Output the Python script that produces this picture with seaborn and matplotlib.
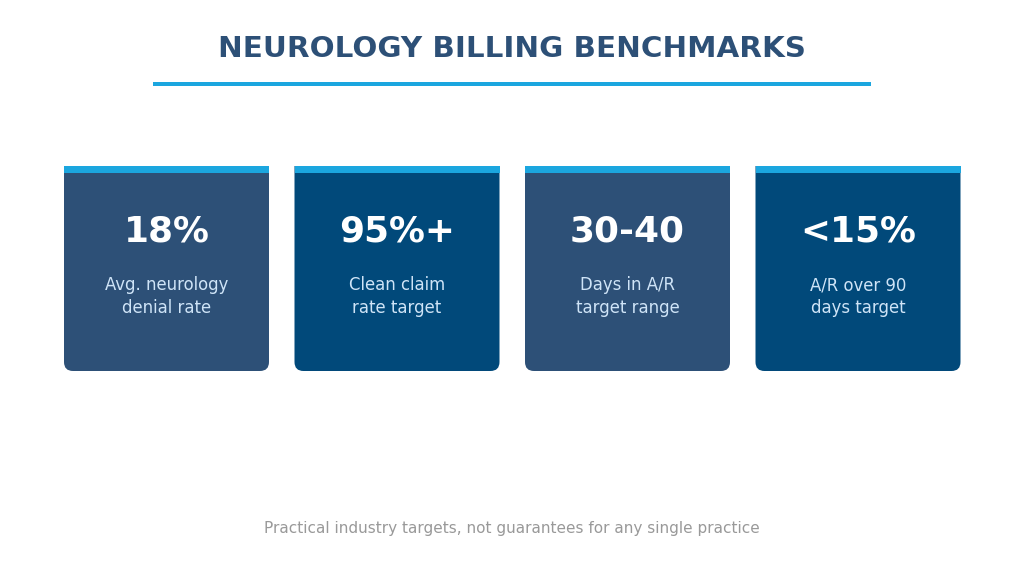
import matplotlib
matplotlib.use("Agg")
import matplotlib.pyplot as plt
import seaborn as sns
from matplotlib.path import Path
from matplotlib.patches import PathPatch, Rectangle

# Data
values = ["18%", "95%+", "30-40", "<15%"]
labels = ["Avg. neurology\ndenial rate", "Clean claim\nrate target",
          "Days in A/R\ntarget range", "A/R over 90\ndays target"]
card_colors = ["#2d5077", "#01497a", "#2d5077", "#01497a"]
title = "NEUROLOGY BILLING BENCHMARKS"
footer = "Practical industry targets, not guarantees for any single practice"

sns.set_theme(style="white")
plt.rcParams["font.family"] = ["DejaVu Sans"]

fig = plt.figure(figsize=(10.24, 5.76), dpi=100)
ax = fig.add_axes([0, 0, 1, 1])
ax.set_xlim(0, 1024)
ax.set_ylim(576, 0)
ax.axis("off")

accent = "#1ba6df"

# title + underline
ax.text(512, 49, title, ha="center", va="center", fontsize=21.2,
        fontweight="bold", color="#2d5077")
ax.add_patch(Rectangle((153, 81.5), 718, 4, color=accent, lw=0))


def card_path(x0, y0, w, h, r):
    # top corners square, bottom corners rounded (y grows downward)
    x1, y1 = x0 + w, y0 + h
    verts = [(x0, y0), (x1, y0), (x1, y1 - r), (x1, y1), (x1 - r, y1),
             (x0 + r, y1), (x0, y1), (x0, y1 - r), (x0, y0)]
    codes = [Path.MOVETO, Path.LINETO, Path.LINETO, Path.CURVE3, Path.CURVE3,
             Path.LINETO, Path.CURVE3, Path.CURVE3, Path.CLOSEPOLY]
    return Path(verts, codes)


card_w = 205
gap = 25.5
left = 64
top = 166
bar_h = 7
body_h = 205

for i, (val, lab, col) in enumerate(zip(values, labels, card_colors)):
    x0 = left + i * (card_w + gap)
    ax.add_patch(PathPatch(card_path(x0, top, card_w, body_h, 9), fc=col, lw=0))
    ax.add_patch(Rectangle((x0, top), card_w, bar_h, color=accent, lw=0))
    cx = x0 + card_w / 2
    ax.text(cx, 231, val, ha="center", va="center", fontsize=25.8,
            fontweight="bold", color="white")
    ax.text(cx, 296.5, lab, ha="center", va="center", fontsize=11.9,
            color="#cfe4f7", linespacing=1.33)

ax.text(512, 528, footer, ha="center", va="center", fontsize=11,
        color="#999999")

fig.savefig("out.png", dpi=100)
